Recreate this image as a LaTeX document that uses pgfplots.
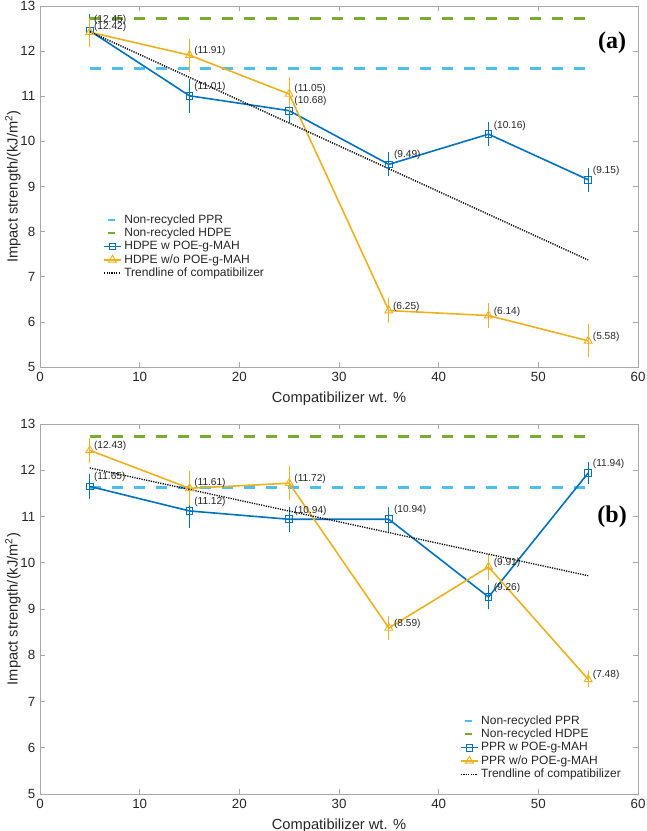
\documentclass[border=0pt]{standalone}
\usepackage{pgfplots}
\pgfplotsset{compat=1.18}
\usepackage{fontspec}
\setmainfont{Liberation Sans}
\newfontfamily\tnr{Liberation Serif}

\definecolor{mblue}{HTML}{0072BD}
\definecolor{myellow}{HTML}{EDB120}
\definecolor{mcyan}{HTML}{4DBEEE}
\definecolor{mgreen}{HTML}{77AC30}
\definecolor{axgray}{HTML}{A8A8A8}

\tikzset{lbl/.style={anchor=west, inner sep=0pt, font=\fontsize{7.6}{8}\selectfont, text=black!85}}

\pgfplotsset{
  panel/.style={
    scale only axis, width=448.5pt,
    xmin=0, xmax=60, ymin=5, ymax=13,
    xtick={0,10,...,60}, ytick={5,6,...,13},
    axis line style={axgray}, tick style={axgray, line width=0.5pt},
    tick align=inside, major tick length=4pt,
    ticklabel style={font=\fontsize{10}{12}\selectfont, text=black!85},
    /pgf/number format/assume math mode=true,
    label style={font=\fontsize{11}{13}\selectfont, text=black!85},
    xlabel={Compatibilizer wt. \%},
    ylabel={Impact strength/(kJ/m\textsuperscript{2})},
    xlabel style={yshift=-1.5pt},
    ylabel style={yshift=-7pt},
    clip=false,
    legend cell align=left,
    legend style={draw=none, fill=none, font=\fontsize{9}{10}\selectfont,
      row sep=-2pt, inner sep=1pt, text=black!85},
  },
  dashline/.style={line width=2pt, dash pattern=on 8.5pt off 8pt,
    legend image code/.code={\draw[##1, solid, line width=1.5pt] (0.16cm,0cm) -- (0.34cm,0cm);}},
  dataline/.style={line width=1.2pt, mark options={solid, line width=0.7pt},
    error bars/.cd, y dir=both, y explicit,
    error bar style={line width=0.8pt},
    error mark options={mark size=2.3pt, line width=0.8pt},
    /pgfplots/legend image code/.code={\draw[mark repeat=2, mark phase=2, ##1]
      plot coordinates {(0.05cm,0cm) (0.27cm,0cm) (0.49cm,0cm)};}},
  trend/.style={black, line width=1pt, dash pattern=on 0.9pt off 0.9pt,
    legend image code/.code={\draw[##1] (0.05cm,0cm) -- (0.49cm,0cm);}},
}

\begin{document}
\begin{tikzpicture}
% ---------------- panel (a)
\begin{axis}[panel, height=270.75pt, at={(0pt,0pt)}, anchor=north west,
  legend style={at={(axis cs:6.2,8.47)}, anchor=north west}]
\addplot[mcyan, dashline] coordinates {(5,11.62) (55,11.62)};
\addlegendentry{Non-recycled PPR}
\addplot[mgreen, dashline] coordinates {(5,12.73) (55,12.73)};
\addlegendentry{Non-recycled HDPE}
\addplot[mblue, mark=square, mark size=2.5pt, dataline] coordinates {
  (5,12.45) +- (0,0.30)
  (15,11.01) +- (0,0.31)
  (25,10.68) +- (0,0.20)
  (35,9.49) +- (0,0.20)
  (45,10.16) +- (0,0.20)
  (55,9.15) +- (0,0.20)};
\addlegendentry{HDPE w POE-g-MAH}
\addplot[myellow, mark=triangle, mark size=3.4pt, dataline] coordinates {
  (5,12.42) +- (0,0.25)
  (15,11.91) +- (0,0.30)
  (25,11.05) +- (0,0.30)
  (35,6.25) +- (0,0.20)
  (45,6.14) +- (0,0.20)
  (55,5.58) +- (0,0.30)};
\addlegendentry{HDPE w/o POE-g-MAH}
\addplot[trend] coordinates {(5,12.43) (55,7.37)};
\addlegendentry{Trendline of compatibilizer}
\node[lbl] at (axis cs:5.4,12.69) {(12.45)};
\node[lbl] at (axis cs:5.4,12.53) {(12.42)};
\node[lbl] at (axis cs:15.45,12.0) {(11.91)};
\node[lbl] at (axis cs:15.45,11.2) {(11.01)};
\node[lbl] at (axis cs:25.5,11.16) {(11.05)};
\node[lbl] at (axis cs:25.5,10.9) {(10.68)};
\node[lbl] at (axis cs:35.5,9.70) {(9.49)};
\node[lbl] at (axis cs:45.5,10.35) {(10.16)};
\node[lbl] at (axis cs:55.45,9.34) {(9.15)};
\node[lbl] at (axis cs:35.4,6.33) {(6.25)};
\node[lbl] at (axis cs:45.5,6.22) {(6.14)};
\node[lbl] at (axis cs:55.45,5.67) {(5.58)};
\node[font=\tnr\bfseries\fontsize{18}{20}\selectfont] at (axis cs:57.4,12.18) {(a)};
\end{axis}
% ---------------- panel (b)
\begin{axis}[panel, height=277.5pt, at={(0pt,-313.5pt)}, anchor=north west,
  legend style={at={(axis cs:42.0,5.22)}, anchor=south west}]
\addplot[mcyan, dashline] coordinates {(5,11.62) (55,11.62)};
\addlegendentry{Non-recycled PPR}
\addplot[mgreen, dashline] coordinates {(5,12.73) (55,12.73)};
\addlegendentry{Non-recycled HDPE}
\addplot[mblue, mark=square, mark size=2.5pt, dataline] coordinates {
  (5,11.65) +- (0,0.21)
  (15,11.12) +- (0,0.31)
  (25,10.94) +- (0,0.20)
  (35,10.94) +- (0,0.20)
  (45,9.26) +- (0,0.20)
  (55,11.94) +- (0,0.17)};
\addlegendentry{PPR w POE-g-MAH}
\addplot[myellow, mark=triangle, mark size=3.4pt, dataline] coordinates {
  (5,12.43) +- (0,0.20)
  (15,11.61) +- (0,0.30)
  (25,11.72) +- (0,0.30)
  (35,8.59) +- (0,0.20)
  (45,9.91) +- (0,0.21)
  (55,7.48) +- (0,0.11)};
\addlegendentry{PPR w/o POE-g-MAH}
\addplot[trend] coordinates {(5,12.05) (55,9.72)};
\addlegendentry{Trendline of compatibilizer}
\node[lbl] at (axis cs:5.4,12.52) {(12.43)};
\node[lbl] at (axis cs:5.4,11.85) {(11.65)};
\node[lbl] at (axis cs:15.45,11.72) {(11.61)};
\node[lbl] at (axis cs:15.45,11.32) {(11.12)};
\node[lbl] at (axis cs:25.5,11.82) {(11.72)};
\node[lbl] at (axis cs:25.5,11.13) {(10.94)};
\node[lbl] at (axis cs:35.5,11.14) {(10.94)};
\node[lbl] at (axis cs:45.5,10.0) {(9.91)};
\node[lbl] at (axis cs:45.5,9.45) {(9.26)};
\node[lbl] at (axis cs:55.45,12.13) {(11.94)};
\node[lbl] at (axis cs:35.5,8.67) {(8.59)};
\node[lbl] at (axis cs:55.45,7.57) {(7.48)};
\node[font=\tnr\bfseries\fontsize{18}{20}\selectfont] at (axis cs:57.4,11.0) {(b)};
\end{axis}
\pgfresetboundingbox
\path (-30pt,4.5pt) rectangle (454.5pt,-618.75pt);
\end{tikzpicture}
\end{document}
